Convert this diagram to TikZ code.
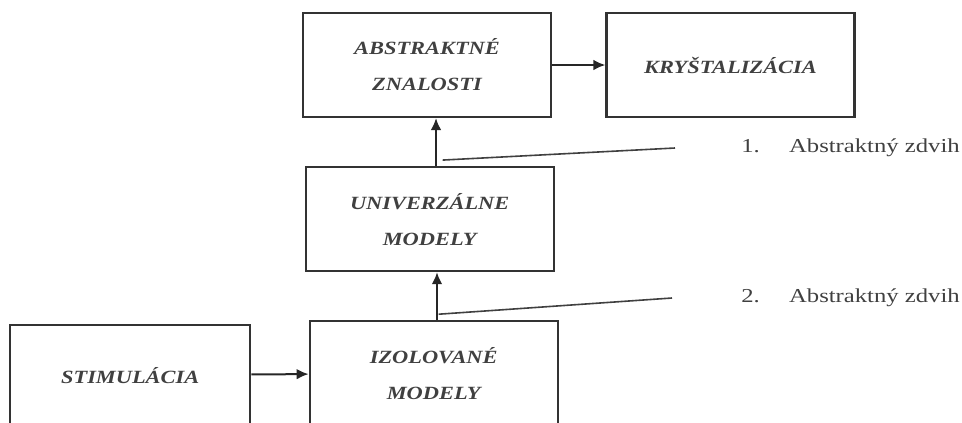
\documentclass[tikz,border=0pt]{standalone}
\usepackage{fontspec}
\setmainfont{Liberation Serif}
\newfontfamily\boxfont[FakeStretch=1.2]{Liberation Serif}
\newfontfamily\liftfont[FakeStretch=1.25]{Liberation Serif}
\usepackage{tikz}
\usetikzlibrary{arrows.meta,positioning,calc}

\tikzset{
  stage/.style={draw=black!80, line width=1.6pt, minimum width=186pt,
    minimum height=78pt, align=center, inner sep=2pt,
    font=\boxfont\fontsize{14pt}{27pt}\selectfont\bfseries\itshape, text=black!75},
  lift/.style={draw=black!75, line width=1.2pt},
  flow/.style={draw=black!85, line width=1.5pt, -{Latex[length=9pt,width=8pt]}},
  liftlabel/.style={anchor=west, inner sep=0pt,
    font=\liftfont\fontsize{14.8pt}{16pt}\selectfont, text=black!75}
}

\begin{document}
\begin{tikzpicture}[x=0.75pt, y=-0.75pt, node distance=36pt]
    \useasboundingbox (0,0) rectangle (962,422);

    \node [stage] (AZ) at (427,65) {ABSTRAKTNÉ\\ZNALOSTI};
    \node [stage, right=40pt of AZ] (KR) {KRYŠTALIZÁCIA};
    \node [stage, below=of AZ, xshift=2pt] (UM) {UNIVERZÁLNE\\MODELY};
    \node [stage, below=of UM, xshift=3pt] (IM) {IZOLOVANÉ\\MODELY};
    \node [stage, left=43pt of IM, minimum width=180pt, minimum height=75pt,
      yshift=-1.5pt] (ST) {STIMULÁCIA};

    \node [liftlabel] (L1) at (741,148) {1.\hspace{22pt}Abstraktný zdvih};
    \node [liftlabel] (L2) at (741,298) {2.\hspace{22pt}Abstraktný zdvih};

    \draw [flow] (AZ) -- (KR);
    \draw [flow] (ST) -- (IM);
    \draw [flow] (UM.north -| 436,0) -- (AZ.south -| 436,0);
    \draw [flow] (IM.north -| 437,0) -- (UM.south -| 437,0);

    % the two lifts
    \coordinate (s1) at ($(UM.north)+(13,-6)$);
    \coordinate (e1) at ($(L1.west)+(-66,0)$);
    \coordinate (s2) at ($(IM.north)+(5,-6)$);
    \coordinate (e2) at ($(L2.west)+(-69,0)$);
    \draw [lift] (s1) -- (e1);
    \draw [lift] (s2) -- (e2);
\end{tikzpicture}
\end{document}
